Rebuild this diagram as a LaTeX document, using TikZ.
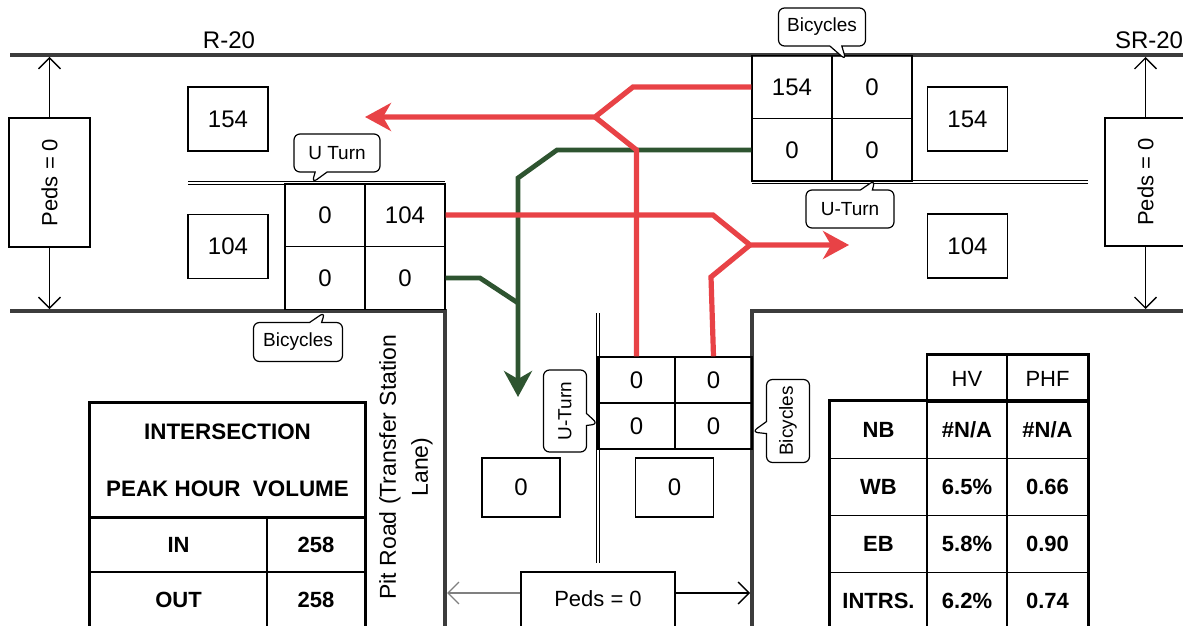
\documentclass[tikz,border=0pt]{standalone}
\usepackage{fontspec}
\setmainfont{Liberation Sans}
\usepackage{graphicx}
\usetikzlibrary{arrows.meta, shapes.callouts}

\definecolor{flowred}{RGB}{232,66,70}
\definecolor{flowgreen}{RGB}{46,84,48}
\definecolor{roadgrey}{RGB}{60,60,60}

\begin{document}
\begin{tikzpicture}[
  x=0.5pt, y=-0.5pt,
  every node/.style={font=\fontsize{12}{14}\selectfont, inner sep=1pt},
  road/.style={roadgrey, line width=1.6pt},
  median/.style={double, double distance=1.3pt, line width=0.55pt},
  cell/.style={draw, line width=0.7pt, minimum width=40pt, minimum height=31.5pt},
  smallcell/.style={draw, line width=0.7pt, minimum width=38.5pt, minimum height=23pt},
  volbox/.style={draw, line width=0.8pt, minimum width=40pt, minimum height=32pt},
  pedsbox/.style={draw, line width=0.8pt, font=\fontsize{11}{13}\selectfont},
  pedarrow/.style={line width=0.65pt, -{Straight Barb[length=5.5pt, width=11pt]}},
  callbox/.style={rectangle callout, draw, fill=white, rounded corners=3pt,
    line width=0.6pt, font=\fontsize{9.5}{11}\selectfont, inner sep=2pt,
    callout pointer width=6pt},
  tcell/.style={draw, line width=0.8pt, font=\bfseries\fontsize{11}{13}\selectfont},
  hcell/.style={draw, line width=0.8pt, font=\fontsize{11}{13}\selectfont},
  tableframe/.style={line width=1.6pt},
  redflow/.style={flowred, line width=2.6pt},
  greenflow/.style={flowgreen, line width=2.4pt},
  flowtip/.style={-{Stealth[length=13pt, width=14pt, inset=4pt]}}
]
\useasboundingbox (0,0) rectangle (1183,626);

% Road edges
\draw[road] (10,55) -- (1183,55);
\draw[road] (10,311) -- (445,311) -- (445,640);
\draw[road] (1183,311) -- (752,311) -- (752,640);

% Medians
\draw[median] (188,183) -- (445,183);
\draw[median] (752,182) -- (1088,182);
\draw[median] (598,313) -- (598,563);

% Road names
\node (rtwenty) at (229,40) {R-20};
\node (srtwenty) at (1149,40) {SR-20};
\node[rotate=90, align=center, font=\fontsize{11.5}{16}\selectfont] (pitroad) at (406,467)
  {Pit Road (Transfer Station\\Lane)};

% West approach lane volumes
\node[cell] (lgA) at (325,215) {0};
\node[cell] (lgB) at (405,215) {104};
\node[cell] (lgC) at (325,278) {0};
\node[cell] (lgD) at (405,278) {0};

% East approach lane volumes
\node[cell] (rgA) at (792,87) {154};
\node[cell] (rgB) at (872,87) {0};
\node[cell] (rgC) at (792,150) {0};
\node[cell] (rgD) at (872,150) {0};

% South approach lane volumes
\node[smallcell] (bgA) at (636.5,380) {0};
\node[smallcell] (bgB) at (713.5,380) {0};
\node[smallcell] (bgC) at (636.5,426) {0};
\node[smallcell] (bgD) at (713.5,426) {0};

% Leg totals
\node[volbox] (volWN) at (228,119) {154};
\node[volbox] (volWS) at (228,246.5) {104};
\node[volbox] (volEN) at (967.5,119) {154};
\node[volbox] (volES) at (967.5,246) {104};
\node[volbox, minimum width=39pt, minimum height=29.5pt] (volSW) at (521,487.5) {0};
\node[volbox, minimum width=39pt, minimum height=29.5pt] (volSE) at (674.5,487.5) {0};

% Pedestrians
\node[pedsbox, minimum width=40.5pt, minimum height=64.5pt] (pedsW) at (49.5,182.5)
  {\rotatebox{90}{Peds = 0}};
\node[pedsbox, minimum width=40.5pt, minimum height=64pt] (pedsE) at (1145.5,182)
  {\rotatebox{90}{Peds = 0}};
\node[pedsbox, minimum width=77pt, minimum height=34pt, text height=8pt, text depth=8pt]
  (pedsS) at (598,606) {Peds = 0};

\coordinate (pedsWup) at (49.5,57);
\coordinate (pedsWdown) at (49.5,309);
\coordinate (pedsEup) at (1145.5,57);
\coordinate (pedsEdown) at (1145.5,309);
\coordinate (pedsSleft) at (447,593);
\coordinate (pedsSright) at (750,593);

\draw[pedarrow] (pedsW.north) -- (pedsWup);
\draw[pedarrow] (pedsW.south) -- (pedsWdown);
\draw[pedarrow] (pedsE.north) -- (pedsEup);
\draw[pedarrow] (pedsE.south) -- (pedsEdown);
\draw[pedarrow, gray] ([yshift=6.5pt]pedsS.west) -- (pedsSleft);
\draw[pedarrow] ([yshift=6.5pt]pedsS.east) -- (pedsSright);

% Turning flows
\coordinate (sbTip) at (518,397);
\coordinate (wbTip) at (365,117);
\coordinate (ebTip) at (849,245);

\draw[greenflow, flowtip] (rgC.west) -- (557,150) -- (518,178) -- (sbTip);
\draw[greenflow] (lgD.east) -- (480,278) -- (518,303);

\draw[redflow, flowtip] (rgA.west) -- (633,87) -- (595,117) -- (wbTip);
\draw[redflow] (bgA.north) -- (636.5,150) -- (595,117);
\draw[redflow, flowtip] (lgB.east) -- (713,215) -- (750,245) -- (ebTip);
\draw[redflow] (bgB.north) -- (711,277) -- (750,245);

% Callouts
\coordinate (cbWptr) at (312,183);
\coordinate (cbNptr) at (846,60);
\coordinate (cbEptr) at (875,180);
\coordinate (cbSptr) at (325,312);
\coordinate (cbCptr) at (598,424);
\coordinate (cbRptr) at (752,432);

\node[callbox, minimum width=43pt, minimum height=19pt, callout absolute pointer={(cbWptr)}]
  (cbW) at (337,153) {U Turn};
\node[callbox, minimum width=43.5pt, minimum height=19pt, callout absolute pointer={(cbNptr)}]
  (cbN) at (822,27) {Bicycles};
\node[callbox, minimum width=44pt, minimum height=19pt, callout absolute pointer={(cbEptr)}]
  (cbE) at (850,209) {U-Turn};
\node[callbox, minimum width=44.5pt, minimum height=19.5pt, callout absolute pointer={(cbSptr)}]
  (cbS) at (298,342) {Bicycles};
\node[callbox, minimum width=21.5pt, minimum height=41pt, callout absolute pointer={(cbCptr)}]
  (cbC) at (565,411) {\rotatebox{90}{U-Turn}};
\node[callbox, minimum width=21.5pt, minimum height=41.5pt, callout absolute pointer={(cbRptr)}]
  (cbR) at (788,421) {\rotatebox{90}{Bicycles}};

% Intersection volume table
\node[tcell, minimum width=137.5pt, minimum height=57pt, align=center,
  font=\bfseries\fontsize{11.2}{28.5}\selectfont] (ivhead) at (227.5,460)
  {INTERSECTION\\PEAK HOUR\ \ VOLUME};
\node[tcell, minimum width=88.5pt, minimum height=27.5pt] (ivin) at (178.5,544.5) {IN};
\node[tcell, minimum width=49pt, minimum height=27.5pt] (ivinval) at (316,544.5) {258};
\node[tcell, minimum width=88.5pt, minimum height=27.5pt] (ivout) at (178.5,599.5) {OUT};
\node[tcell, minimum width=49pt, minimum height=27.5pt] (ivoutval) at (316,599.5) {258};
\draw[tableframe] (ivhead.north west) rectangle (ivoutval.south east);
\draw[tableframe] (ivhead.south west) -- (ivhead.south east);

% Heavy vehicle / PHF table
\node[hcell, minimum width=40pt, minimum height=23.5pt] (hvhead) at (967,378.5) {HV};
\node[hcell, minimum width=40.5pt, minimum height=23.5pt] (phfhead) at (1047.5,378.5) {PHF};

\node[tcell, minimum width=48.5pt, minimum height=28.5pt] (nb) at (878.5,430) {NB};
\node[tcell, minimum width=40pt, minimum height=28.5pt] (nbhv) at (967,430) {\#N/A};
\node[tcell, minimum width=40.5pt, minimum height=28.5pt] (nbphf) at (1047.5,430) {\#N/A};

\node[tcell, minimum width=48.5pt, minimum height=28.5pt] (wb) at (878.5,487) {WB};
\node[tcell, minimum width=40pt, minimum height=28.5pt] (wbhv) at (967,487) {6.5\%};
\node[tcell, minimum width=40.5pt, minimum height=28.5pt] (wbphf) at (1047.5,487) {0.66};

\node[tcell, minimum width=48.5pt, minimum height=28.5pt] (eb) at (878.5,544) {EB};
\node[tcell, minimum width=40pt, minimum height=28.5pt] (ebhv) at (967,544) {5.8\%};
\node[tcell, minimum width=40.5pt, minimum height=28.5pt] (ebphf) at (1047.5,544) {0.90};

\node[tcell, minimum width=48.5pt, minimum height=28.5pt] (intrs) at (878.5,601) {INTRS.};
\node[tcell, minimum width=40pt, minimum height=28.5pt] (intrshv) at (967,601) {6.2\%};
\node[tcell, minimum width=40.5pt, minimum height=28.5pt] (intrsphf) at (1047.5,601) {0.74};

\draw[tableframe] (nb.north west) rectangle (intrsphf.south east);
\draw[tableframe] (hvhead.north west) -- (phfhead.north east) -- (phfhead.south east);

\end{tikzpicture}
\end{document}
